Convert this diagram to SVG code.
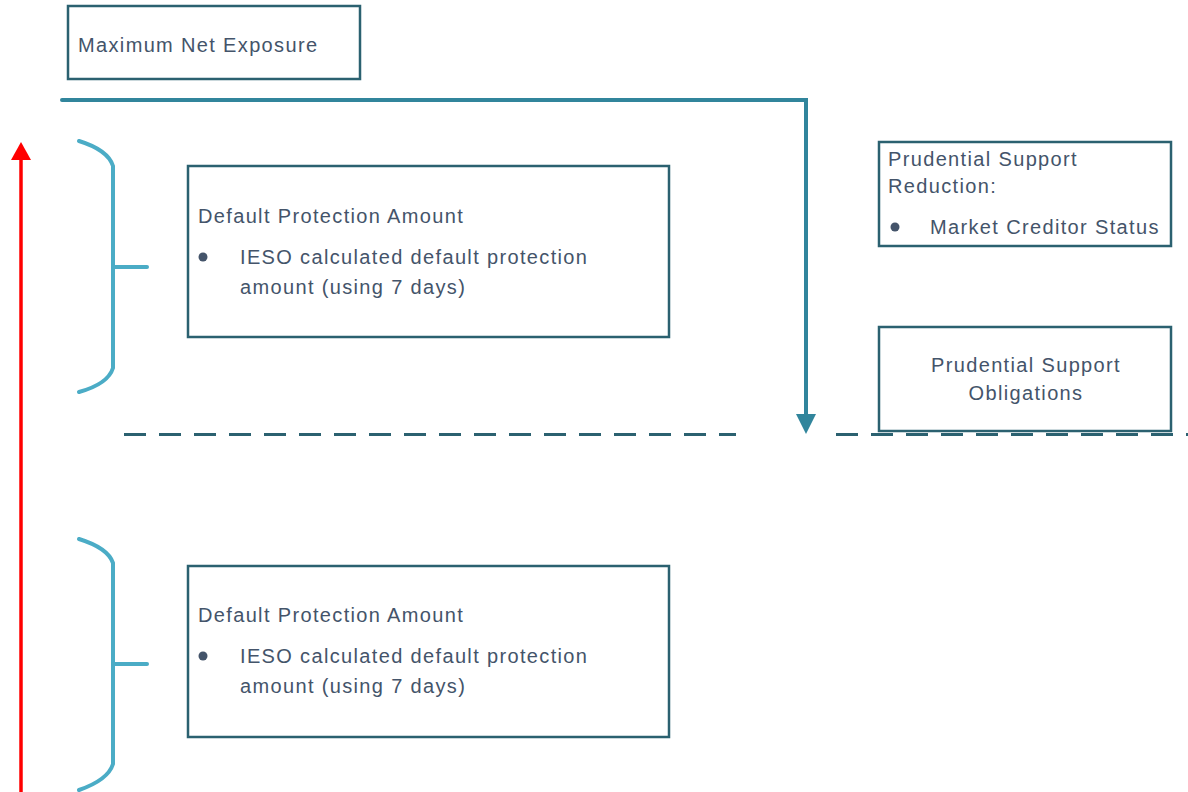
<svg xmlns="http://www.w3.org/2000/svg" width="1188" height="792" viewBox="0 0 1188 792">
<style>
.box{fill:#fff;stroke:#2b6170;stroke-width:2.5}
.t{font-family:"Liberation Sans",Arial,sans-serif;font-size:20px;letter-spacing:1.35px;fill:#44546a}
.brace{fill:none;stroke:#4bacc6;stroke-width:4;stroke-linecap:round}
.dash{stroke:#2b6170;stroke-width:3;stroke-dasharray:22 13;fill:none}
</style>
<rect width="1188" height="792" fill="#fff"/>
<g id="connectors">
<line class="dash" x1="124" y1="434.5" x2="736" y2="434.5"/>
<line class="dash" x1="836" y1="434.5" x2="1188" y2="434.5"/>
<path d="M62,100 H806 V416" fill="none" stroke="#31859c" stroke-width="4" stroke-linecap="round"/>
<path d="M796,414 L816,414 L806,434 Z" fill="#31859c"/>
<line x1="21" y1="792" x2="21" y2="158" stroke="#ff0000" stroke-width="3.5"/>
<path d="M11,160 L31,160 L21,142 Z" fill="#ff0000"/>
</g>
<g id="brace-top">
<path class="brace" d="M79,141 Q108,150 113,166 V368 Q108,384 79,392"/>
<line class="brace" x1="113" y1="267" x2="147" y2="267"/>
</g>
<g id="brace-bottom">
<path class="brace" d="M79,539 Q108,548 113,563 V764 Q108,780 79,790"/>
<line class="brace" x1="113" y1="664" x2="147" y2="664"/>
</g>
<g id="max-net-exposure">
<rect class="box" x="68" y="6" width="292" height="73" stroke-width="2"/>
<text class="t" x="78" y="52">Maximum Net Exposure</text>
</g>
<g id="dpa-top">
<rect class="box" x="188" y="166" width="481" height="171"/>
<text class="t" x="198" y="223">Default Protection Amount</text>
<circle cx="203" cy="257" r="4.5" fill="#44546a"/>
<text class="t" x="240" y="264">IESO calculated default protection</text>
<text class="t" x="240" y="294">amount (using 7 days)</text>
</g>
<g id="dpa-bottom">
<rect class="box" x="188" y="566" width="481" height="171"/>
<text class="t" x="198" y="622">Default Protection Amount</text>
<circle cx="203" cy="656" r="4.5" fill="#44546a"/>
<text class="t" x="240" y="663">IESO calculated default protection</text>
<text class="t" x="240" y="693">amount (using 7 days)</text>
</g>
<g id="ps-reduction">
<rect class="box" x="879" y="142" width="292" height="104"/>
<text class="t" x="888" y="166">Prudential Support</text>
<text class="t" x="888" y="193">Reduction:</text>
<circle cx="895" cy="227" r="4.5" fill="#44546a"/>
<text class="t" x="930" y="234">Market Creditor Status</text>
</g>
<g id="ps-obligations">
<rect class="box" x="879" y="327" width="292" height="104"/>
<text class="t" x="1026" y="372" text-anchor="middle">Prudential Support</text>
<text class="t" x="1026" y="400" text-anchor="middle">Obligations</text>
</g>
</svg>
